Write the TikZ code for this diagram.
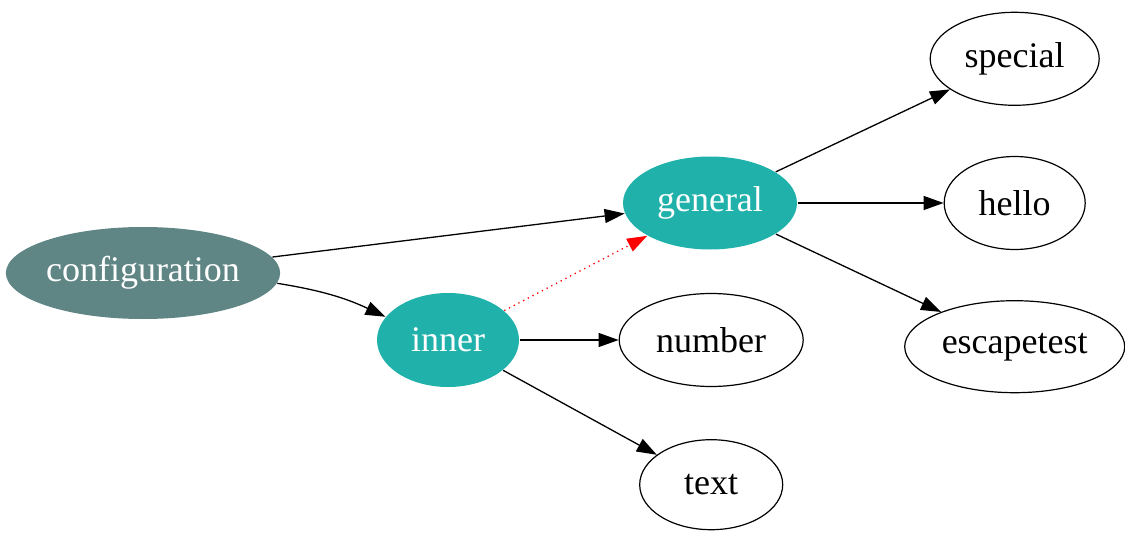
\documentclass[tikz,border=0pt]{standalone}
\usepackage{fontspec}
\setmainfont{Liberation Serif}
\usetikzlibrary{positioning, shapes.geometric, arrows.meta}
\definecolor{slatefill}{HTML}{5F8585}
\definecolor{tealfill}{HTML}{20B2AA}

\begin{document}
\begin{tikzpicture}[x=0.5pt, y=-0.5pt,
		leaf/.style={ellipse, draw, line width=0.6pt, inner sep=0pt, font=\fontsize{18}{20}\selectfont},
		hub/.style={leaf, draw=none, fill=tealfill, text=white},
		link/.style={-{Triangle[length=10pt,width=7pt]}, line width=0.65pt}]
			\useasboundingbox (0,0) rectangle (1125,535);

			\node[leaf, draw=none, fill=slatefill, text=white, minimum width=133pt, minimum height=46pt] (conf) at (143,273) {configuration};
			\node[hub, minimum width=87pt, minimum height=46.5pt] (general) at (710,203) {general};
			\node[hub, minimum width=71pt, minimum height=47pt] (inner) at (448,340) {inner};

			\node[leaf, minimum width=92pt, minimum height=46.5pt, right=49.5pt of inner] (number) {number};
			\node[leaf, minimum width=71.5pt, minimum height=45pt, below=26pt of number] (text) {text};
			\node[leaf, minimum width=70.5pt, minimum height=46.5pt, right=73pt of general] (hello) {hello};
			\node[leaf, minimum width=84.5pt, minimum height=46.5pt, above=25pt of hello] (special) {special};
			\node[leaf, minimum width=110pt, minimum height=46pt, below=25pt of hello] (escape) {escapetest};

			\draw[link] (conf) -- (general);
			\draw[link] (conf) to[bend left=8] (inner);
			\draw[link, red, dotted] (inner) -- (general);
			\draw[link] (inner) -- (number);
			\draw[link] (inner) -- (text);
			\draw[link] (general) -- (special);
			\draw[link] (general) -- (hello);
			\draw[link] (general) -- (escape);
		\end{tikzpicture}
\end{document}
